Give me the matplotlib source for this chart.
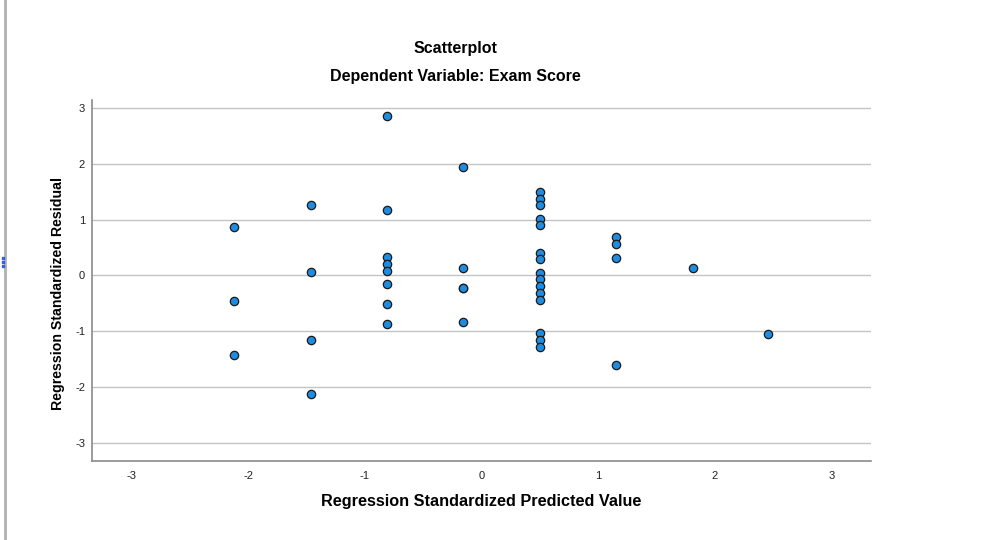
import matplotlib
matplotlib.use("Agg")
import matplotlib.pyplot as plt
from matplotlib.lines import Line2D

plt.rcParams['font.family'] = ['Liberation Sans', 'DejaVu Sans']

# Data: predicted (x) and residual (y) standardized values
pred = [-2.12, -2.12, -2.12,
        -1.46, -1.46, -1.46, -1.46,
        -0.81, -0.81, -0.81, -0.81, -0.81, -0.81, -0.81, -0.81,
        -0.155, -0.155, -0.155, -0.155, -0.155,
        0.50, 0.50, 0.50, 0.50, 0.50, 0.50, 0.50, 0.50, 0.50, 0.50, 0.50, 0.50, 0.50, 0.50, 0.50,
        1.155, 1.155, 1.155, 1.155,
        1.81,
        2.46]
resid = [0.865, -0.45, -1.42,
         1.26, 0.07, -1.15, -2.13,
         2.87, 1.18, 0.34, 0.21, 0.08, -0.15, -0.51, -0.87,
         1.94, 0.13, -0.23, -0.23, -0.83,
         1.50, 1.37, 1.26, 1.01, 0.90, 0.41, 0.29, 0.05, -0.07, -0.19, -0.31, -0.44, -1.04, -1.16, -1.28,
         0.69, 0.57, 0.32, -1.60,
         0.126,
         -1.045]
ticks = [-3, -2, -1, 0, 1, 2, 3]

fig = plt.figure(figsize=(9.84, 5.40), dpi=100)
ax = fig.add_axes([92/984, 1 - 461/540, (871-92)/984, (461-100)/540])

ax.set_xlim(-3.34, 3.34)
ax.set_ylim(-3.33, 3.15)
ax.set_xticks(ticks)
ax.set_yticks(ticks)
ax.set_xticklabels([str(t) for t in ticks])
ax.set_yticklabels([str(t) for t in ticks])
ax.tick_params(axis='both', length=0, labelsize=8, colors='#222222')
ax.tick_params(axis='x', pad=7)
ax.tick_params(axis='y', pad=5)

for s in ['top', 'right']:
    ax.spines[s].set_visible(False)
for s in ['left', 'bottom']:
    ax.spines[s].set_color('#8a8a8a')
    ax.spines[s].set_linewidth(1.2)

ax.yaxis.grid(True, color='#c4c4c4', linewidth=1.0)
ax.xaxis.grid(False)
ax.set_axisbelow(True)

ax.scatter(pred, resid, s=36, facecolor='#1e8ce0', edgecolor='#1a1a1a',
           linewidths=0.9, zorder=3)

ax.set_xlabel('Regression Standardized Predicted Value', fontsize=11.7,
              fontweight='bold')
ax.xaxis.set_label_coords(0.5, -(494 - 461) / 361)
ax.set_ylabel('Regression Standardized Residual', fontsize=10.2,
              fontweight='bold')
ax.yaxis.set_label_coords((65 - 92) / 779, (461 - 293) / 361)

fig.text(455/984, 1 - 48/540, 'Scatterplot', ha='center', va='center',
         fontsize=11.5, fontweight='bold')
fig.text(455/984, 1 - 77/540, 'Dependent Variable: Exam Score', ha='center',
         va='center', fontsize=11.5, fontweight='bold')

# window border on the left
fig.add_artist(Line2D([5/984, 5/984], [0, 1], color='#b0b0b0', linewidth=2,
                      transform=fig.transFigure))
for yy in [258, 262, 266]:
    fig.add_artist(Line2D([3/984], [1 - yy/540], marker='s', markersize=2,
                          color='#3060e0', linestyle='none',
                          transform=fig.transFigure))

fig.savefig('out.png', dpi=100)
